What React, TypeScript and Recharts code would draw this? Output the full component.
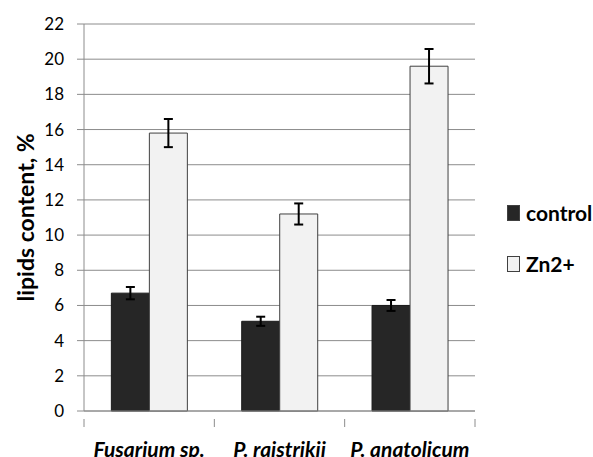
import { BarChart, Bar, XAxis, YAxis, CartesianGrid, ErrorBar } from "recharts";

const categories = ["Fusarium sp.", "P. raistrikii", "P. anatolicum"];
const controlValues = [6.7, 5.1, 6.0];
const controlErrors = [0.35, 0.26, 0.31];
const znValues = [15.8, 11.2, 19.6];
const znErrors = [0.8, 0.6, 0.98];
const yTicks = [0, 2, 4, 6, 8, 10, 12, 14, 16, 18, 20, 22];
const legendItems = [
  { label: "control", fill: "#262626" },
  { label: "Zn2+", fill: "#f2f2f2" },
];

const FONT = "Lato, 'Open Sans', sans-serif";

const data = categories.map((name, i) => ({
  name,
  control: controlValues[i],
  controlErr: controlErrors[i],
  zn: znValues[i],
  znErr: znErrors[i],
}));

function CategoryTick(props: any) {
  const { x, y, payload, index } = props;
  const half = payload?.offset ?? 65;
  return (
    <g>
      <line x1={x - half} y1={y} x2={x - half} y2={y + 8} stroke="#8c8c8c" />
      {index === categories.length - 1 && (
        <line x1={x + half} y1={y} x2={x + half} y2={y + 8} stroke="#8c8c8c" />
      )}
      <text
        x={x}
        y={y + 38}
        textAnchor="middle"
        fontFamily={FONT}
        fontSize={21}
        fontWeight="bold"
        fontStyle="italic"
        fill="#000"
      >
        {payload.value}
      </text>
    </g>
  );
}

function LegendBox() {
  return (
    <div
      style={{
        position: "absolute",
        left: 507,
        top: 200,
        fontFamily: FONT,
        fontWeight: "bold",
        fontSize: 21,
        color: "#000",
      }}
    >
      {legendItems.map((it, i) => (
        <div key={it.label} style={{ display: "flex", alignItems: "center", height: 25, marginBottom: i === 0 ? 26 : 0 }}>
          <span
            style={{
              display: "inline-block",
              width: 11,
              height: 14,
              background: it.fill,
              border: "1px solid #404040",
              marginRight: 6,
            }}
          />
          {it.label}
        </div>
      ))}
    </div>
  );
}

export default function App() {
  return (
    <div style={{ position: "absolute", left: 0, top: 0, width: 593, height: 457, background: "#fff" }}>
      <BarChart
        width={593}
        height={457}
        data={data}
        margin={{ top: 24, right: 118, left: 0, bottom: 0 }}
        barCategoryGap="21%"
        barGap={0}
      >
        <CartesianGrid vertical={false} stroke="#8c8c8c" strokeWidth={1} />
        <XAxis
          dataKey="name"
          height={46}
          axisLine={{ stroke: "#8c8c8c" }}
          tickLine={false}
          tick={<CategoryTick />}
          interval={0}
        />
        <YAxis
          width={84}
          domain={[0, 22]}
          ticks={yTicks}
          interval={0}
          axisLine={{ stroke: "#8c8c8c" }}
          tickLine={{ stroke: "#8c8c8c" }}
          tickSize={7}
          tickMargin={13}
          tick={{ fontFamily: FONT, fontSize: 17, fill: "#000" }}
          label={{
            value: "lipids content, %",
            angle: -90,
            position: "insideLeft",
            offset: 26,
            style: { fontFamily: FONT, fontSize: 23, fontWeight: "bold", fill: "#000", textAnchor: "middle" },
          }}
        />
        <Bar dataKey="control" fill="#262626" stroke="#1a1a1a" strokeWidth={1} isAnimationActive={false}>
          <ErrorBar dataKey="controlErr" width={4.5} stroke="#000" strokeWidth={2} direction="y" />
        </Bar>
        <Bar dataKey="zn" fill="#f2f2f2" stroke="#404040" strokeWidth={1} isAnimationActive={false}>
          <ErrorBar dataKey="znErr" width={4.5} stroke="#000" strokeWidth={2} direction="y" />
        </Bar>
      </BarChart>
      <LegendBox />
    </div>
  );
}
